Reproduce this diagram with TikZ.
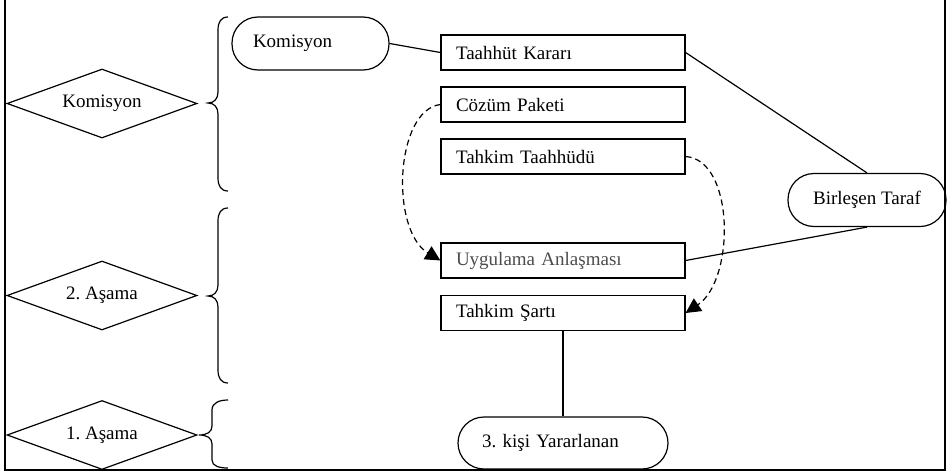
\documentclass[tikz,border=0pt]{standalone}
\usepackage{fontspec}
\setmainfont{Liberation Serif}
\usetikzlibrary{arrows.meta,shapes.geometric}
\frenchspacing
\begin{document}
\begin{tikzpicture}[x=1pt,y=-1pt,
  every node/.style={font=\fontsize{19}{22}\selectfont},
  ln/.style={line width=1.2pt},
  dia/.style={draw,ln,diamond,aspect=2.75,minimum width=190pt,minimum height=69pt,inner sep=0pt},
  boxx/.style={draw,ln,rectangle,minimum height=35pt,text width=214pt,inner xsep=15pt,inner ysep=0pt,align=left},
  term/.style={draw,ln,rectangle,rounded corners=26pt,minimum height=53pt,inner ysep=0pt},
  brc/.style={ln},
  dsh/.style={ln,dash pattern=on 6pt off 4pt,-{Triangle[length=15pt,width=15pt]}}
]
\useasboundingbox (0,0) rectangle (947,474);
% frame
\draw[line width=1.6pt] (5,-2) -- (5,470) -- (945,470) -- (945,-2);
% diamonds
\node[dia] (d1) at (102,103.5) {Komisyon};
\node[dia] (d2) at (102,295.5) {2. Aşama};
\node[dia] (d3) at (102,435) {1. Aşama};
% braces
\draw[brc] (228,17) .. controls (221,17) and (218,22) .. (218,30) -- (218,92)
  .. controls (218,99) and (214,103) .. (208,103) .. controls (214,103) and (218,107) .. (218,114)
  -- (218,178) .. controls (218,186) and (221,191) .. (228,191);
\draw[brc] (228,208) .. controls (221,208) and (218,213) .. (218,221) -- (218,285)
  .. controls (218,292) and (214,296) .. (208,296) .. controls (214,296) and (218,300) .. (218,307)
  -- (218,370) .. controls (218,378) and (221,383) .. (228,383);
\draw[brc] (228,400) .. controls (219,400) and (212,403) .. (212,410) -- (212,426)
  .. controls (212,432) and (207,435) .. (199,435) .. controls (207,435) and (212,438) .. (212,444)
  -- (212,460) .. controls (212,466) and (219,468) .. (228,468);
% terminals
\node[term,text width=115pt,inner xsep=21pt,align=left] (kom) at (310.5,43.5) {Komisyon};
\node[term,minimum width=158pt] (bt) at (867,200) {Birleşen Taraf};
\node[term,text width=162pt,inner xsep=24pt,align=left,minimum height=52pt] (kisi) at (563,443) {3. kişi Yararlanan};
% boxes
\node[boxx] (tk) at (563,52.5) {Taahhüt Kararı};
\node[boxx] (cp) at (563,104.5) {Cözüm Paketi};
\node[boxx] (tt) at (563,156.5) {Tahkim Taahhüdü};
\node[boxx,text=black!70] (ua) at (563,260.5) {Uygulama Anlaşması};
\node[boxx] (ts) at (563,313) {Tahkim Şartı};
% connectors
\draw[ln] (kom.east) -- (tk.west);
\draw[ln] (tk.east) -- (bt.north);
\draw[ln] (ua.east) -- (bt.south);
\draw[ln] (ts.south) -- (kisi.north);
\draw[dsh] (cp.west) .. controls (395,110) and (390,230) .. (ua.west);
\draw[dsh] (tt.east) .. controls (735,160) and (735,280) .. (ts.east);
\end{tikzpicture}
\end{document}
